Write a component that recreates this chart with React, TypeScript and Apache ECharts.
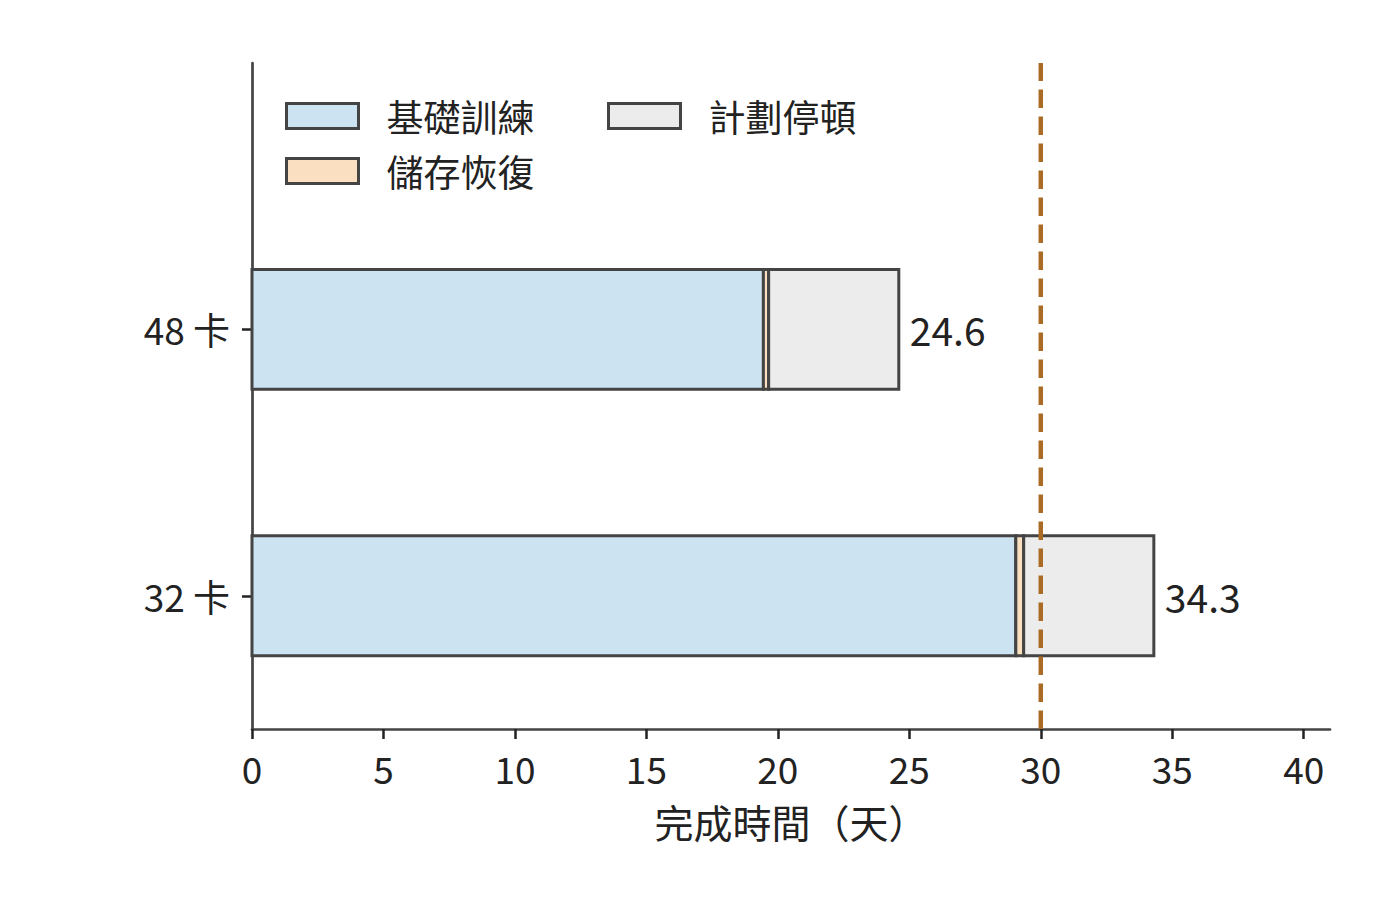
import React, { useEffect, useRef } from 'react';
import * as echarts from 'echarts';

const categories = ['32 卡', '48 卡'];
const baseTraining = [29.05, 19.45];
const recovery = [0.3, 0.2];
const plannedPause = [4.95, 4.95];
const deadline = 30;
const xTicks = [0, 5, 10, 15, 20, 25, 30, 35, 40];

const FONT = '"Noto Sans CJK TC", "Noto Sans", sans-serif';
const EDGE = '#444444';
const HALF = 0.225;

const segColors = { base: '#cce3f2', rec: '#fadfc1', pause: '#ececec' };

export default function App() {
  const ref = useRef<HTMLDivElement>(null);

  useEffect(() => {
    if (!ref.current) return;
    const chart = echarts.init(ref.current, null, { renderer: 'svg' });

    // each item: [start, end, categoryIndex]
    const baseData = categories.map((_, i) => [0, baseTraining[i], i]);
    const recData = categories.map((_, i) => [baseTraining[i], baseTraining[i] + recovery[i], i]);
    const pauseData = categories.map((_, i) => {
      const s = baseTraining[i] + recovery[i];
      return [s, s + plannedPause[i], i];
    });

    const makeRender = (fill: string, withLabel: boolean) => (params: any, api: any) => {
      const start = api.value(0);
      const end = api.value(1);
      const y = api.value(2);
      const p0 = api.coord([start, y + HALF]);
      const p1 = api.coord([end, y - HALF]);
      const rect = {
        type: 'rect',
        shape: { x: p0[0], y: p0[1], width: p1[0] - p0[0], height: p1[1] - p0[1] },
        style: { fill, stroke: EDGE, lineWidth: 3 },
      };
      if (!withLabel) return rect;
      return {
        type: 'group',
        children: [
          rect,
          {
            type: 'text',
            x: p1[0] + 11,
            y: (p0[1] + p1[1]) / 2,
            style: {
              text: end.toFixed(1),
              fill: '#222222',
              fontSize: 39,
              fontFamily: FONT,
              align: 'left',
              verticalAlign: 'middle',
            },
          },
        ],
      };
    };

    const legendText = {
      color: '#222222',
      fontSize: 37,
      fontFamily: FONT,
      lineHeight: 40,
      padding: [0, 0, 0, 23],
    };
    const legendIcon = (c: string) => ({ color: c, borderColor: EDGE, borderWidth: 3 });

    chart.setOption({
      animation: false,
      backgroundColor: '#ffffff',
      grid: { left: 252, right: 70, top: 63, bottom: 183, containLabel: false },
      legend: [
        {
          orient: 'vertical',
          left: 280,
          top: 91,
          itemWidth: 72,
          itemHeight: 25,
          itemGap: 15,
          textStyle: legendText,
          data: [
            { name: '基礎訓練', icon: 'rect', itemStyle: legendIcon(segColors.base) },
            { name: '儲存恢復', icon: 'rect', itemStyle: legendIcon(segColors.rec) },
          ],
        },
        {
          orient: 'vertical',
          left: 602,
          top: 91,
          itemWidth: 72,
          itemHeight: 25,
          textStyle: legendText,
          data: [{ name: '計劃停頓', icon: 'rect', itemStyle: legendIcon(segColors.pause) }],
        },
      ],
      xAxis: {
        type: 'value',
        min: 0,
        max: 41,
        name: '完成時間（天）',
        nameLocation: 'middle',
        nameGap: 72,
        nameTextStyle: { color: '#222222', fontSize: 39, fontFamily: FONT },
        axisLine: { show: true, onZero: false, lineStyle: { color: EDGE, width: 2.7 } },
        axisTick: { show: true, customValues: xTicks, length: 10, lineStyle: { color: '#222222', width: 2.5 } },
        axisLabel: { customValues: xTicks, margin: 20, color: '#222222', fontSize: 37, fontFamily: FONT },
        splitLine: { show: false },
      },
      yAxis: {
        type: 'value',
        min: -0.5,
        max: 2,
        axisLine: { show: true, onZero: false, lineStyle: { color: EDGE, width: 2.7 } },
        axisTick: { show: true, customValues: [0, 1], length: 10, lineStyle: { color: '#222222', width: 2.5 } },
        axisLabel: {
          customValues: [0, 1],
          margin: 22,
          color: '#222222',
          fontSize: 37,
          fontFamily: FONT,
          formatter: (v: number) => categories[Math.round(v)] ?? '',
        },
        splitLine: { show: false },
      },
      series: [
        {
          name: '基礎訓練',
          type: 'custom',
          itemStyle: { color: segColors.base },
          encode: { x: [0, 1], y: 2 },
          data: baseData,
          renderItem: makeRender(segColors.base, false),
        },
        {
          name: '儲存恢復',
          type: 'custom',
          itemStyle: { color: segColors.rec },
          encode: { x: [0, 1], y: 2 },
          data: recData,
          renderItem: makeRender(segColors.rec, false),
        },
        {
          name: '計劃停頓',
          type: 'custom',
          itemStyle: { color: segColors.pause },
          encode: { x: [0, 1], y: 2 },
          data: pauseData,
          renderItem: makeRender(segColors.pause, true),
        },
        {
          name: 'deadline',
          type: 'line',
          symbol: 'none',
          z: 10,
          lineStyle: { color: '#aa6b24', width: 4.5, type: [18.5, 8.5] },
          data: [[deadline, -0.5], [deadline, 2]],
        },
      ],
    });

    return () => chart.dispose();
  }, []);

  return (
    <div
      ref={ref}
      style={{ position: 'fixed', left: 0, top: 0, width: 1400, height: 912, background: '#fff' }}
    />
  );
}
